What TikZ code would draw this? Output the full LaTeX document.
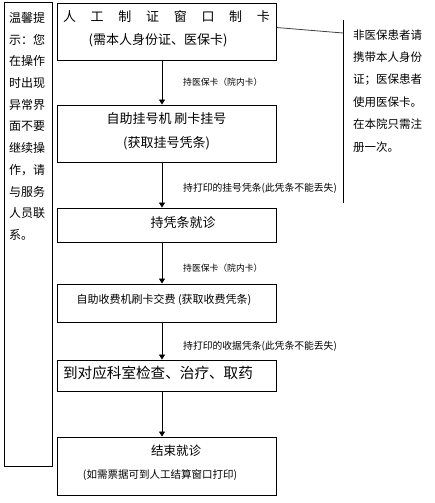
\documentclass[tikz,border=0pt]{standalone}
\usepackage{fontspec}
\setmainfont{Noto Sans CJK SC}
\usetikzlibrary{arrows.meta,calc}
\newcommand\fsz[1]{\fontsize{#1}{#1}\selectfont}
\begin{document}
\begin{tikzpicture}[x=1pt,y=-1pt,
  box/.style={draw,line width=0.9pt,minimum width=219pt,inner sep=0pt},
  txt/.style={inner sep=0pt},
  lbl/.style={inner sep=0pt,anchor=west},
  arr/.style={line width=0.8pt,-{Triangle[width=6pt,length=5pt]}}]
\useasboundingbox[fill=white] (0,0) rectangle (434,503);
% left tip box
\node[box,minimum width=48pt,minimum height=464pt] (tipbox) at (28.3,234.8) {};
\foreach \t [count=\i from 0] in {温馨提,示：您,在操作,时出现,异常界,面不要,继续操,作，请,与服务,人员联,系。}
  \node[lbl,font=\fsz{12}] (tl\i) at (9,18+21.7*\i) {\t};
% main boxes
\node[box,minimum height=57pt] (b1) at (167,31.5) {};
\node[box,minimum height=57pt] (b2) at (167,133.5) {};
\node[box,minimum height=34pt] (b3) at (167,225) {};
\node[box,minimum height=38pt] (b4) at (167,303) {};
\node[box,minimum height=31pt] (b5) at (167,375.5) {};
\node[box,minimum height=58pt] (b6) at (167,466) {};
% box texts
\foreach \c [count=\i from 0] in {人,工,制,证,窗,口,制,卡}
  \node[txt,font=\fsz{13}] (h\i) at (69.5+27.7*\i,17) {\c};
\node[txt,font=\fsz{13}] (t1b) at (158,40) {(需本人身份证、医保卡)};
\node[txt,font=\fsz{13}] (t2a) at (166.5,119) {自助挂号机 刷卡挂号};
\node[txt,font=\fsz{13}] (t2b) at (166.5,143) {(获取挂号凭条)};
\node[txt,font=\fsz{13}] (t3) at (183,223) {持凭条就诊};
\node[txt,font=\fsz{11}] (t4) at (164,300) {自助收费机刷卡交费 (获取收费凭条)};
\node[txt,font=\fsz{14.6}] (t5) at (158,373) {到对应科室检查、治疗、取药};
\node[txt,font=\fsz{12.5}] (t6a) at (176,451) {结束就诊};
\node[txt,font=\fsz{10.5}] (t6b) at (160,475) {(如需票据可到人工结算窗口打印)};
% arrows
\coordinate (ax) at (162,0);
\draw[arr] (b1.south -| ax) -- (b2.north -| ax);
\draw[arr] (b2.south -| ax) -- (b3.north -| ax);
\draw[arr] (b3.south -| ax) -- (b4.north -| ax);
\draw[arr] (b4.south -| ax) -- (b5.north -| ax);
\draw[arr] (b5.south -| ax) -- (b6.north -| ax);
% arrow labels
\node[lbl,font=\fsz{8.8}] (a1) at (183,82) {持医保卡（院内卡）};
\node[lbl,font=\fsz{9.8}] (a2) at (183,188) {持打印的挂号凭条(此凭条不能丢失)};
\node[lbl,font=\fsz{8.8}] (a3) at (183,268) {持医保卡（院内卡）};
\node[lbl,font=\fsz{9.8}] (a4) at (183,346) {持打印的收据凭条(此凭条不能丢失)};
% right note
\coordinate (rt) at (343,20);
\coordinate (rb) at (343,203);
\coordinate (rj) at (343,33);
\draw[line width=0.9pt] (rt) -- (rb);
\draw[line width=0.8pt,black!75] ($(b1.north east)+(0,25)$) -- (rj);
\foreach \t [count=\i from 0] in {非医保患者请,携带本人身份,证；医保患者,使用医保卡。,在本院只需注,册一次。}
  \node[lbl,font=\fsz{11.5}] (r\i) at (353,35+22.4*\i) {\t};
\end{tikzpicture}
\end{document}
